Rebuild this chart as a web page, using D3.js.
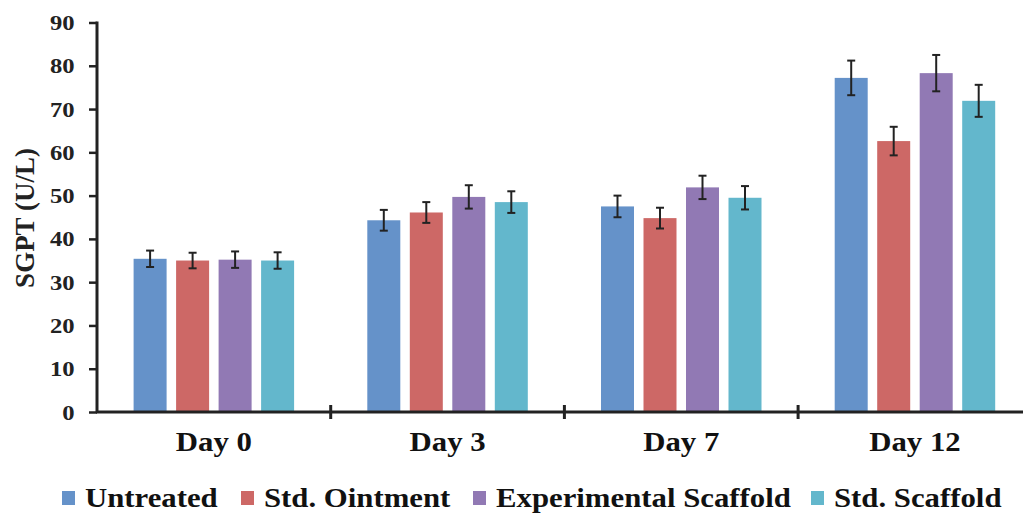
<!DOCTYPE html>
<html><head><meta charset="utf-8">
<script src="https://cdn.jsdelivr.net/npm/d3@7"></script>
<style>body{margin:0;background:#fff;}svg{display:block;} text{font-family:"Liberation Serif","Times New Roman","DejaVu Serif",serif;font-weight:bold;}</style>
</head><body>
<svg id="c" width="1023" height="514"></svg>
<script>
const categories = ["Day 0", "Day 3", "Day 7", "Day 12"];
const seriesNames = ["Untreated", "Std. Ointment", "Experimental Scaffold", "Std. Scaffold"];
const untreated = [35.4, 44.3, 47.5, 77.2];
const stdOintment = [35.0, 46.1, 44.8, 62.6];
const expScaffold = [35.2, 49.7, 51.9, 78.3];
const stdScaffold = [35.0, 48.5, 49.5, 71.9];
const untreatedErr = [1.9, 2.4, 2.5, 4.0];
const stdOintmentErr = [1.8, 2.4, 2.4, 3.3];
const expScaffoldErr = [1.9, 2.7, 2.7, 4.2];
const stdScaffoldErr = [1.9, 2.5, 2.7, 3.7];
const yTicks = [0, 10, 20, 30, 40, 50, 60, 70, 80, 90];
const colors = ["#6592c9", "#cd6866", "#9179b4", "#63b7cc"];

const values = [untreated, stdOintment, expScaffold, stdScaffold];
const errs = [untreatedErr, stdOintmentErr, expScaffoldErr, stdScaffoldErr];

const svg = d3.select("#c");

const x0 = d3.scaleBand().domain(categories).range([97, 97 + 4 * 233.7]).padding(0);
const groupW = 160.5;
const x1 = d3.scaleBand().domain(seriesNames).range([0, groupW]).paddingInner(9.5 / 42.5).paddingOuter(0);
const y = d3.scaleLinear().domain([0, 90]).range([412, 22.5]);

const data = [];
categories.forEach((c, i) => seriesNames.forEach((s, j) => data.push({c, s, j, v: values[j][i], e: errs[j][i]})));
const off = (x0.bandwidth() - groupW) / 2;

// bars
svg.append("g").selectAll("rect").data(data).join("rect")
  .attr("x", d => x0(d.c) + off + x1(d.s))
  .attr("y", d => y(d.v))
  .attr("width", x1.bandwidth())
  .attr("height", d => y(0) - y(d.v))
  .attr("fill", d => colors[d.j]);

// error bars
const eg = svg.append("g").attr("stroke", "#222").attr("stroke-width", 2);
data.forEach(d => {
  const cx = x0(d.c) + off + x1(d.s) + x1.bandwidth() / 2;
  eg.append("line").attr("x1", cx).attr("x2", cx).attr("y1", y(d.v + d.e)).attr("y2", y(d.v - d.e));
  eg.append("line").attr("x1", cx - 4).attr("x2", cx + 4).attr("y1", y(d.v + d.e)).attr("y2", y(d.v + d.e));
  eg.append("line").attr("x1", cx - 4).attr("x2", cx + 4).attr("y1", y(d.v - d.e)).attr("y2", y(d.v - d.e));
});

// y axis
const ya = svg.append("g").attr("transform", "translate(97,0)")
  .call(d3.axisLeft(y).tickValues(yTicks).tickSize(8).tickPadding(12));
ya.attr("font-family", null).attr("font-size", null);
ya.select(".domain").attr("stroke", "#222").attr("stroke-width", 3).attr("d", `M0,${y(90)-1}V${y(0)}`);
ya.selectAll(".tick line").attr("stroke", "#222").attr("stroke-width", 2.5);
ya.selectAll("text").style("font-size", "22px").attr("fill", "#222").attr("transform", "scale(1.12,1)");

// x axis
const xa = svg.append("g").attr("transform", `translate(0,${y(0)})`)
  .call(d3.axisBottom(x0).tickSize(0).tickPadding(20));
xa.attr("font-family", null).attr("font-size", null);
xa.select(".domain").attr("stroke", "#222").attr("stroke-width", 3).attr("d", "M96,0H1023");
xa.selectAll("text").style("font-size", "27px").attr("fill", "#111").attr("transform", "scale(1.14,1)");
// boundary ticks
const bounds = categories.slice(1).map(c => x0(c));
svg.append("g").selectAll("line").data(bounds).join("line")
  .attr("x1", d => d).attr("x2", d => d).attr("y1", y(0) - 7).attr("y2", y(0) + 7)
  .attr("stroke", "#222").attr("stroke-width", 3);

// y title
svg.append("text").attr("transform", `translate(34,218) rotate(-90)`)
  .attr("text-anchor", "middle").style("font-size", "27px").attr("fill", "#222").text("SGPT (U/L)");

// legend
const legX = [62, 241, 473, 811];
const lg = svg.append("g");
seriesNames.forEach((s, j) => {
  lg.append("rect").attr("x", legX[j]).attr("y", 491).attr("width", 13).attr("height", 14).attr("fill", colors[j]);
  lg.append("text").attr("transform", `translate(${legX[j] + 23},507) scale(1.14,1)`).style("font-size", "27px")
    .attr("fill", "#111").text(s);
});
</script>
</body></html>
